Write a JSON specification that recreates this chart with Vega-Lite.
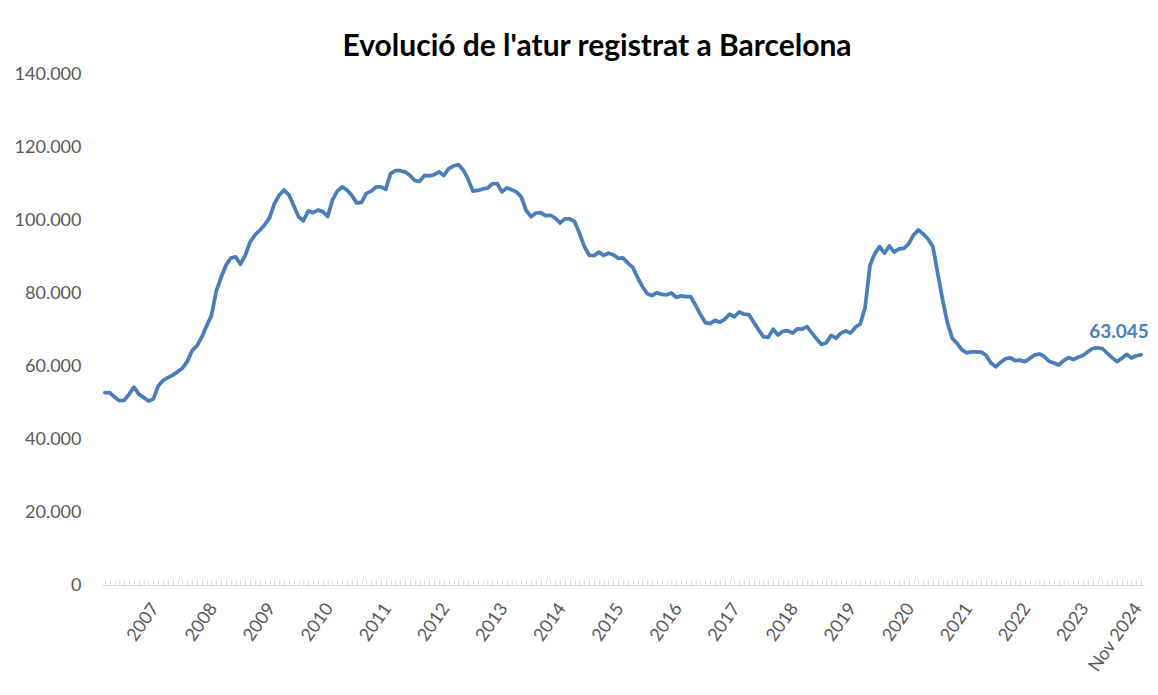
{
  "$schema": "https://vega.github.io/schema/vega-lite/v6.json",
  "autosize": {"type": "none"},
  "width": 1042,
  "height": 511,
  "padding": {"left": 102, "top": 74, "right": 14, "bottom": 110},
  "background": "white",
  "title": {
    "text": "Evolució de l'atur registrat a Barcelona",
    "font": "Lato",
    "fontSize": 30,
    "fontWeight": "bold",
    "color": "#000000",
    "anchor": "middle",
    "frame": "group",
    "dx": -26,
    "offset": 3
  },
  "config": {
    "locale": {"number": {"decimal": ",", "thousands": ".", "grouping": [3], "currency": ["", " €"]}},
    "view": {"stroke": null},
    "font": "Lato"
  },
  "data": {"values": [
    {"m":"2007-01","v":52700},{"m":"2007-02","v":52700},{"m":"2007-03","v":51500},{"m":"2007-04","v":50500},{"m":"2007-05","v":50600},{"m":"2007-06","v":52300},{"m":"2007-07","v":54200},{"m":"2007-08","v":52300},{"m":"2007-09","v":51400},{"m":"2007-10","v":50400},{"m":"2007-11","v":51000},{"m":"2007-12","v":54500},
    {"m":"2008-01","v":56000},{"m":"2008-02","v":56800},{"m":"2008-03","v":57500},{"m":"2008-04","v":58400},{"m":"2008-05","v":59400},{"m":"2008-06","v":61200},{"m":"2008-07","v":64200},{"m":"2008-08","v":65500},{"m":"2008-09","v":67900},{"m":"2008-10","v":71000},{"m":"2008-11","v":73800},{"m":"2008-12","v":80500},
    {"m":"2009-01","v":84300},{"m":"2009-02","v":87600},{"m":"2009-03","v":89600},{"m":"2009-04","v":89900},{"m":"2009-05","v":87900},{"m":"2009-06","v":90400},{"m":"2009-07","v":94000},{"m":"2009-08","v":95900},{"m":"2009-09","v":97200},{"m":"2009-10","v":98700},{"m":"2009-11","v":100600},{"m":"2009-12","v":104500},
    {"m":"2010-01","v":106800},{"m":"2010-02","v":108200},{"m":"2010-03","v":106900},{"m":"2010-04","v":103900},{"m":"2010-05","v":100900},{"m":"2010-06","v":99800},{"m":"2010-07","v":102500},{"m":"2010-08","v":102000},{"m":"2010-09","v":102700},{"m":"2010-10","v":102300},{"m":"2010-11","v":101000},{"m":"2010-12","v":105500},
    {"m":"2011-01","v":107900},{"m":"2011-02","v":109100},{"m":"2011-03","v":108200},{"m":"2011-04","v":106700},{"m":"2011-05","v":104700},{"m":"2011-06","v":104800},{"m":"2011-07","v":107300},{"m":"2011-08","v":107900},{"m":"2011-09","v":109100},{"m":"2011-10","v":109100},{"m":"2011-11","v":108400},{"m":"2011-12","v":112700},
    {"m":"2012-01","v":113500},{"m":"2012-02","v":113500},{"m":"2012-03","v":113200},{"m":"2012-04","v":112200},{"m":"2012-05","v":110800},{"m":"2012-06","v":110600},{"m":"2012-07","v":112200},{"m":"2012-08","v":112100},{"m":"2012-09","v":112400},{"m":"2012-10","v":113200},{"m":"2012-11","v":112200},{"m":"2012-12","v":114100},
    {"m":"2013-01","v":114800},{"m":"2013-02","v":115200},{"m":"2013-03","v":113700},{"m":"2013-04","v":111200},{"m":"2013-05","v":107900},{"m":"2013-06","v":108100},{"m":"2013-07","v":108500},{"m":"2013-08","v":108700},{"m":"2013-09","v":109900},{"m":"2013-10","v":110000},{"m":"2013-11","v":107700},{"m":"2013-12","v":108800},
    {"m":"2014-01","v":108300},{"m":"2014-02","v":107700},{"m":"2014-03","v":106300},{"m":"2014-04","v":102600},{"m":"2014-05","v":100900},{"m":"2014-06","v":101900},{"m":"2014-07","v":102000},{"m":"2014-08","v":101200},{"m":"2014-09","v":101300},{"m":"2014-10","v":100500},{"m":"2014-11","v":99200},{"m":"2014-12","v":100300},
    {"m":"2015-01","v":100300},{"m":"2015-02","v":99600},{"m":"2015-03","v":96400},{"m":"2015-04","v":92800},{"m":"2015-05","v":90400},{"m":"2015-06","v":90200},{"m":"2015-07","v":91200},{"m":"2015-08","v":90300},{"m":"2015-09","v":90900},{"m":"2015-10","v":90500},{"m":"2015-11","v":89500},{"m":"2015-12","v":89600},
    {"m":"2016-01","v":88200},{"m":"2016-02","v":87100},{"m":"2016-03","v":84300},{"m":"2016-04","v":81800},{"m":"2016-05","v":79800},{"m":"2016-06","v":79300},{"m":"2016-07","v":80100},{"m":"2016-08","v":79600},{"m":"2016-09","v":79500},{"m":"2016-10","v":80000},{"m":"2016-11","v":78800},{"m":"2016-12","v":79200},
    {"m":"2017-01","v":79000},{"m":"2017-02","v":79000},{"m":"2017-03","v":76600},{"m":"2017-04","v":74100},{"m":"2017-05","v":71900},{"m":"2017-06","v":71600},{"m":"2017-07","v":72500},{"m":"2017-08","v":72000},{"m":"2017-09","v":72800},{"m":"2017-10","v":74200},{"m":"2017-11","v":73500},{"m":"2017-12","v":74800},
    {"m":"2018-01","v":74200},{"m":"2018-02","v":74100},{"m":"2018-03","v":72000},{"m":"2018-04","v":69900},{"m":"2018-05","v":68000},{"m":"2018-06","v":67900},{"m":"2018-07","v":70100},{"m":"2018-08","v":68500},{"m":"2018-09","v":69500},{"m":"2018-10","v":69700},{"m":"2018-11","v":69000},{"m":"2018-12","v":70200},
    {"m":"2019-01","v":70100},{"m":"2019-02","v":70800},{"m":"2019-03","v":69100},{"m":"2019-04","v":67400},{"m":"2019-05","v":65900},{"m":"2019-06","v":66400},{"m":"2019-07","v":68400},{"m":"2019-08","v":67600},{"m":"2019-09","v":69000},{"m":"2019-10","v":69600},{"m":"2019-11","v":69000},{"m":"2019-12","v":70600},
    {"m":"2020-01","v":71500},{"m":"2020-02","v":76000},{"m":"2020-03","v":87500},{"m":"2020-04","v":90800},{"m":"2020-05","v":92700},{"m":"2020-06","v":90900},{"m":"2020-07","v":92900},{"m":"2020-08","v":91200},{"m":"2020-09","v":92100},{"m":"2020-10","v":92200},{"m":"2020-11","v":93500},{"m":"2020-12","v":95900},
    {"m":"2021-01","v":97300},{"m":"2021-02","v":96200},{"m":"2021-03","v":94800},{"m":"2021-04","v":92700},{"m":"2021-05","v":85400},{"m":"2021-06","v":78200},{"m":"2021-07","v":71800},{"m":"2021-08","v":67600},{"m":"2021-09","v":66200},{"m":"2021-10","v":64400},{"m":"2021-11","v":63600},{"m":"2021-12","v":63900},
    {"m":"2022-01","v":63900},{"m":"2022-02","v":63800},{"m":"2022-03","v":62900},{"m":"2022-04","v":60800},{"m":"2022-05","v":59800},{"m":"2022-06","v":61000},{"m":"2022-07","v":62000},{"m":"2022-08","v":62200},{"m":"2022-09","v":61500},{"m":"2022-10","v":61600},{"m":"2022-11","v":61200},{"m":"2022-12","v":62100},
    {"m":"2023-01","v":63000},{"m":"2023-02","v":63300},{"m":"2023-03","v":62600},{"m":"2023-04","v":61300},{"m":"2023-05","v":60800},{"m":"2023-06","v":60300},{"m":"2023-07","v":61500},{"m":"2023-08","v":62300},{"m":"2023-09","v":61800},{"m":"2023-10","v":62400},{"m":"2023-11","v":62900},{"m":"2023-12","v":63900},
    {"m":"2024-01","v":64800},{"m":"2024-02","v":65000},{"m":"2024-03","v":64800},{"m":"2024-04","v":63500},{"m":"2024-05","v":62300},{"m":"2024-06","v":61200},{"m":"2024-07","v":62100},{"m":"2024-08","v":63200},{"m":"2024-09","v":62200},{"m":"2024-10","v":62800},{"m":"2024-11","v":63045}
  ]},
  "encoding": {
    "x": {
      "field": "m",
      "type": "ordinal",
      "sort": null,
      "scale": {"type": "point", "padding": 0.6},
      "axis": {
        "title": null,
        "labelExpr": "substring(datum.value,5,7)=='12' ? substring(datum.value,0,4) : (datum.value=='2024-11' ? 'Nov 2024' : '')",
        "labelAngle": -55,
        "labelAlign": "right",
        "labelBaseline": "middle",
        "labelOverlap": false,
        "labelFont": "Lato",
        "labelFontSize": 18,
        "labelColor": "#595959",
        "labelPadding": 25,
        "labelOffset": -3,
        "domainColor": "#d9d9d9",
        "domainWidth": 1,
        "tickColor": "#d9d9d9",
        "tickSize": -5,
        "tickWidth": 1,
        "grid": false
      }
    },
    "y": {
      "field": "v",
      "type": "quantitative",
      "scale": {"domain": [0, 140000]},
      "axis": {
        "title": null,
        "values": [0, 20000, 40000, 60000, 80000, 100000, 120000, 140000],
        "format": ",d",
        "domain": false,
        "ticks": false,
        "grid": false,
        "labelFont": "Lato",
        "labelFontSize": 18,
        "labelColor": "#595959",
        "labelPadding": 21
      }
    }
  },
  "layer": [
    {
      "mark": {"type": "line", "color": "#4a7ebb", "strokeWidth": 3.75, "strokeCap": "round", "strokeJoin": "round"}
    },
    {
      "transform": [{"filter": "datum.m == '2024-11'"}],
      "mark": {"type": "text", "color": "#4a7ebb", "fontWeight": "bold", "font": "Lato", "fontSize": 19, "align": "center", "baseline": "middle", "dx": -22, "dy": -23},
      "encoding": {"text": {"field": "v", "type": "quantitative", "format": ",d"}}
    }
  ]
}
